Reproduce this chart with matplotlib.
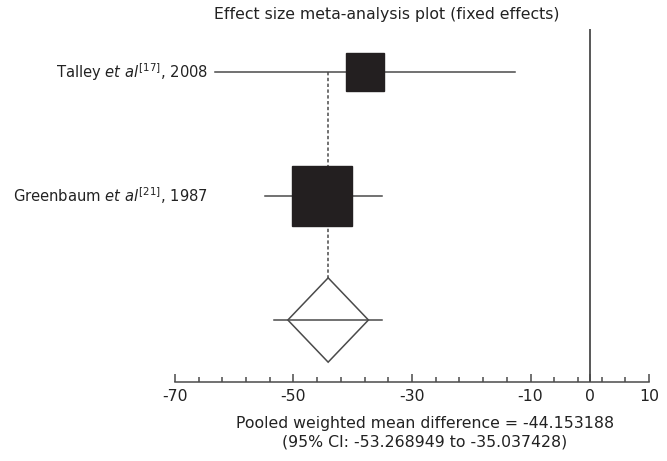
import numpy as np
import matplotlib
matplotlib.use("Agg")
import matplotlib.pyplot as plt
from matplotlib.patches import Polygon
from matplotlib.transforms import blended_transform_factory

plt.rcParams["mathtext.fontset"] = "dejavusans"
plt.rcParams["font.family"] = "DejaVu Sans"
plt.rcParams["axes.unicode_minus"] = False

studies = [r"Talley $\mathit{et\ al}^{\mathrm{[17]}}$, 2008",
           r"Greenbaum $\mathit{et\ al}^{\mathrm{[21]}}$, 1987"]
effects = [-38.0, -45.2]
ci_low = [-63.3, -54.8]
ci_high = [-12.7, -35.1]
box_sizes = [27, 43]          # marker side in points ~ study weight
rows = [3, 2]

pooled = -44.153188
pooled_low = -53.268949
pooled_high = -35.037428
diamond_half = 6.8

line_col = "#4a4a4a"
box_col = "#231f20"
txt_col = "#222222"
fs = 11.3

fig = plt.figure(figsize=(6.67, 4.61), dpi=100)
W, H = 667, 461
ax = fig.add_axes([175 / W, (H - 382) / H, 474 / W, (382 - 29) / H])
ax.set_xlim(-70, 10)
ax.set_ylim(0.5, 0.5 + (382 - 29) / 124)

for r, e, lo, hi, s in zip(rows, effects, ci_low, ci_high, box_sizes):
    ax.plot([lo, hi], [r, r], color=line_col, lw=1.1, zorder=2)
    ax.plot(e, r, marker="s", ms=s, color=box_col, mec=box_col, zorder=3)

# pooled estimate
ax.plot([pooled, pooled], [rows[0], 1 + 0.34], color=line_col, lw=1.1,
        ls=(0, (2.2, 1.6)), zorder=1)
ax.add_patch(Polygon([[pooled - diamond_half, 1], [pooled, 1.34],
                      [pooled + diamond_half, 1], [pooled, 0.66]],
                     closed=True, fill=False, ec=line_col, lw=1.1, zorder=3))
ax.plot([pooled_low, pooled_high], [1, 1], color=line_col, lw=1.1, zorder=3)

# no-effect line
ax.axvline(0, color=line_col, lw=1.3)

for sp in ["top", "right", "left"]:
    ax.spines[sp].set_visible(False)
ax.spines["bottom"].set_color(line_col)
ax.spines["bottom"].set_linewidth(1.1)
ax.set_yticks([])
ax.set_xticks([-70, -50, -30, -10, 0, 10])
ax.set_xticks(np.arange(-70, 11, 4), minor=True)
ax.tick_params(axis="x", which="major", direction="in", length=5.5, width=1.1,
               color=line_col, labelsize=fs, labelcolor=txt_col, pad=5)
ax.tick_params(axis="x", which="minor", direction="in", length=3.5, width=1.1,
               color=line_col)

trans = blended_transform_factory(fig.transFigure, ax.transData)
for r, name in zip(rows, studies):
    ax.text(208 / W, r, name, transform=trans, ha="right", va="center",
            fontsize=10.6, color=txt_col)

fig.text(387 / W, 1 - 14 / H, "Effect size meta-analysis plot (fixed effects)",
         ha="center", va="center", fontsize=fs, color=txt_col)
fig.text(425 / W, 1 - 423 / H,
         "Pooled weighted mean difference = %.6f" % pooled,
         ha="center", va="center", fontsize=fs, color=txt_col)
fig.text(425 / W, 1 - 442 / H,
         "(95%% CI: %.6f to %.6f)" % (pooled_low, pooled_high),
         ha="center", va="center", fontsize=fs, color=txt_col)

fig.savefig("out.png", dpi=100)
